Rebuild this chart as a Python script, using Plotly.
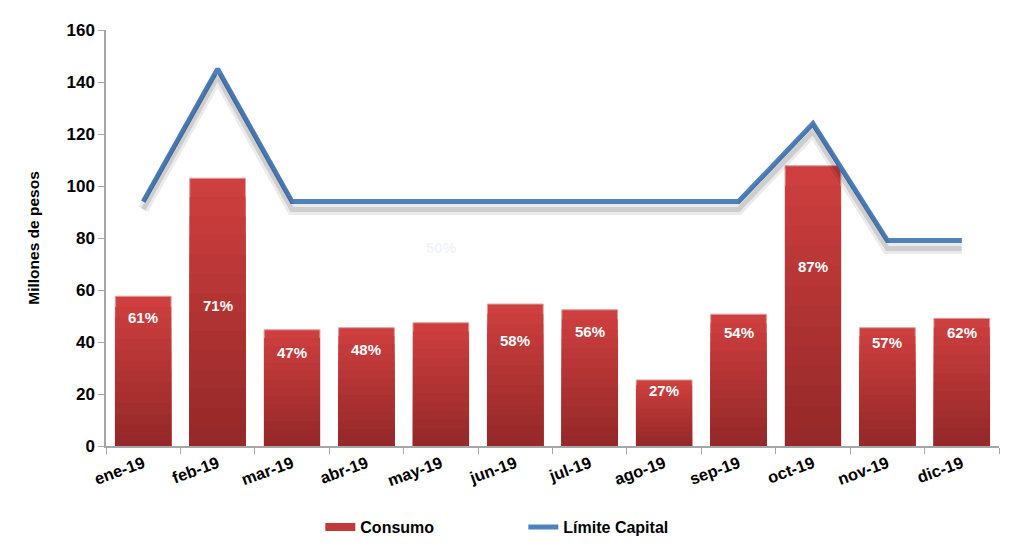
import plotly.graph_objects as go

months = ["ene-19", "feb-19", "mar-19", "abr-19", "may-19", "jun-19",
          "jul-19", "ago-19", "sep-19", "oct-19", "nov-19", "dic-19"]
consumo = [57.6, 103.0, 44.7, 45.5, 47.4, 54.6, 52.4, 25.4, 50.7, 107.8, 45.5, 49.1]
limite = [94, 145, 94, 94, 94, 94, 94, 94, 94, 124, 79, 79]
pct_labels = ["61%", "71%", "47%", "48%", "50%", "58%", "56%", "27%", "54%", "87%", "57%", "62%"]
pct_label_y = [49.5, 54.2, 36.0, 37.2, 76.5, 40.4, 44.2, 21.2, 43.8, 69.2, 39.7, 43.8]
pct_label_color = ["white", "white", "white", "white", "#f2f4f9", "white",
                   "white", "white", "white", "white", "white", "white"]

FONT = "Liberation Sans, Arial, sans-serif"
top_rgb = (206, 63, 63)
bot_rgb = (150, 41, 41)

fig = go.Figure()

# gradient bars via overlaid layers
N = 14
for k in range(N):
    f = 1 - k / N
    t = k / (N - 1)
    c = tuple(int(top_rgb[i] + (bot_rgb[i] - top_rgb[i]) * t) for i in range(3))
    fig.add_trace(go.Bar(
        x=months, y=[v * f for v in consumo],
        marker=dict(color=f"rgb{c}", line=dict(width=1 if k == 0 else 0, color="#dca0a0")),
        showlegend=False, hoverinfo="skip", name="Consumo",
    ))
# legend entry for bars (wide red swatch)
fig.add_trace(go.Scatter(
    x=[None], y=[None], mode="lines", name="Consumo",
    line=dict(color="#c03a3a", width=8), showlegend=True, hoverinfo="skip",
))

# line shadow
fig.add_trace(go.Scatter(
    x=months, y=limite, mode="lines", yaxis="y2",
    line=dict(color="rgba(0,0,0,0.08)", width=11), showlegend=False, hoverinfo="skip",
))
fig.add_trace(go.Scatter(
    x=months, y=limite, mode="lines", yaxis="y2",
    line=dict(color="rgba(0,0,0,0.12)", width=5), showlegend=False, hoverinfo="skip",
))
fig.add_trace(go.Scatter(
    x=months, y=limite, mode="lines", name="Límite Capital",
    line=dict(color="#4f81bd", width=5),
))

for m, lab, ly, col in zip(months, pct_labels, pct_label_y, pct_label_color):
    fig.add_annotation(x=m, y=ly, text=f"<b>{lab}</b>", showarrow=False,
                       font=dict(family=FONT, size=15, color=col))

fig.update_layout(
    width=1024, height=558,
    barmode="overlay", bargap=0.25,
    plot_bgcolor="white", paper_bgcolor="white",
    margin=dict(l=98, r=33, t=22, b=120),
    font=dict(family=FONT, color="black"),
    xaxis=dict(
        type="category", showline=True, linecolor="#a6a6a6", linewidth=1.5,
        ticks="outside", tickson="boundaries", ticklen=6, tickcolor="#a6a6a6",
        tickangle=-20, tickfont=dict(family=FONT, size=16.5, color="black", weight="bold"),
        showgrid=False, zeroline=False, automargin=False,
    ),
    yaxis=dict(
        range=[0, 160], dtick=20, showline=True, linecolor="#a6a6a6", linewidth=1.5,
        ticks="outside", ticklen=6, tickcolor="#a6a6a6",
        tickfont=dict(family=FONT, size=17, color="black", weight="bold"),
        showgrid=False, zeroline=False, automargin=False,
        title=dict(text="<b>Millones de pesos</b>", font=dict(family=FONT, size=15.5), standoff=23),
    ),
    yaxis2=dict(
        overlaying="y", range=[3, 163], visible=False, showgrid=False,
    ),
    legend=dict(
        orientation="h", x=0.24, xanchor="left", y=-0.195, yanchor="middle",
        font=dict(family=FONT, size=16, color="black", weight="bold"),
        entrywidth=158, traceorder="normal",
    ),
)

fig.write_html("out.html")
